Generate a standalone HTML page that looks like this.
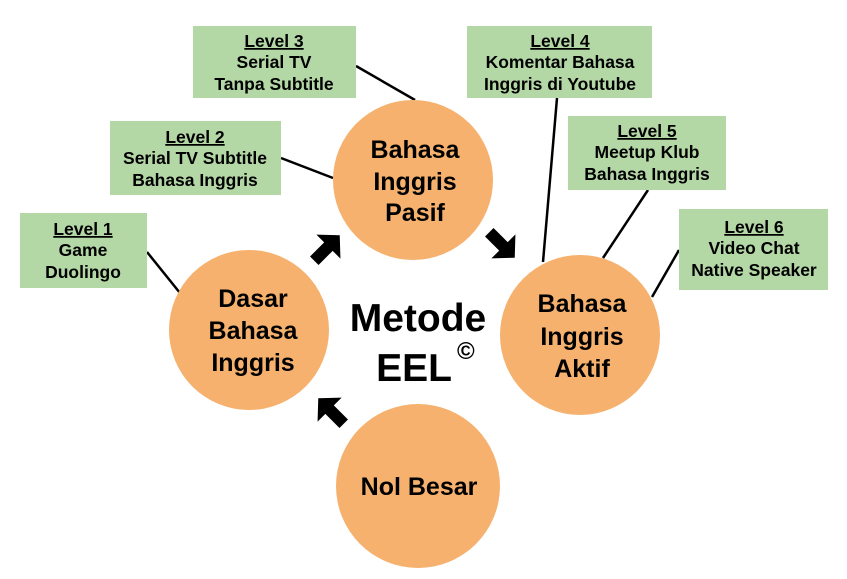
<!DOCTYPE html>
<html><head><meta charset="utf-8"><style>
body{margin:0;background:#fff;}
svg{display:block;}
text{font-family:"Liberation Sans",Arial,sans-serif;font-weight:bold;fill:#000;}
</style></head><body>
<svg width="847" height="579" viewBox="0 0 847 579">
<g stroke="#000" stroke-width="2.5">
<line x1="356" y1="66" x2="415" y2="100"/>
<line x1="281" y1="158" x2="333" y2="178"/>
<line x1="147" y1="252" x2="180" y2="293"/>
<line x1="557" y1="98" x2="543" y2="262"/>
<line x1="648" y1="190" x2="603" y2="258"/>
<line x1="679" y1="250" x2="652" y2="297"/>
</g>
<g fill="#B4D7A6">
<rect x="193" y="26" width="163" height="72"/>
<rect x="110" y="121" width="171" height="74"/>
<rect x="20" y="213" width="127" height="75"/>
<rect x="467" y="26" width="185" height="72"/>
<rect x="568" y="116" width="158" height="74"/>
<rect x="679" y="209" width="149" height="81"/>
</g>
<g font-size="17.5" text-anchor="middle">
<text x="274" y="47" text-decoration="underline">Level 3</text>
<text x="274" y="68">Serial TV</text>
<text x="274" y="90">Tanpa Subtitle</text>
<text x="195" y="143" text-decoration="underline">Level 2</text>
<text x="195" y="164">Serial TV Subtitle</text>
<text x="195" y="186">Bahasa Inggris</text>
<text x="83" y="235" text-decoration="underline">Level 1</text>
<text x="83" y="256">Game</text>
<text x="83" y="278">Duolingo</text>
<text x="560" y="47" text-decoration="underline">Level 4</text>
<text x="560" y="68">Komentar Bahasa</text>
<text x="560" y="90">Inggris di Youtube</text>
<text x="647" y="137" text-decoration="underline">Level 5</text>
<text x="647" y="158">Meetup Klub</text>
<text x="647" y="180">Bahasa Inggris</text>
<text x="754" y="233" text-decoration="underline">Level 6</text>
<text x="754" y="254">Video Chat</text>
<text x="754" y="276">Native Speaker</text>
</g>
<g fill="#F5B16D">
<circle cx="413" cy="180" r="80"/>
<circle cx="249" cy="330" r="80"/>
<circle cx="580" cy="335" r="80"/>
<circle cx="418" cy="486" r="82"/>
</g>
<g font-size="25" text-anchor="middle">
<text x="415" y="158">Bahasa</text>
<text x="415" y="190">Inggris</text>
<text x="415" y="221">Pasif</text>
<text x="253" y="307">Dasar</text>
<text x="253" y="339">Bahasa</text>
<text x="253" y="371">Inggris</text>
<text x="582" y="312">Bahasa</text>
<text x="582" y="345">Inggris</text>
<text x="582" y="377">Aktif</text>
<text x="419" y="495">Nol Besar</text>
</g>
<g font-size="39" text-anchor="middle">
<text x="418" y="331">Metode</text>
<text x="414" y="381">EEL</text>
</g>
<text x="457" y="359" font-size="24" font-weight="normal">©</text>
<g fill="#000">
<path d="M-18,-6 H2 V-17 L18,0 L2,17 V6 H-18 Z" transform="translate(327,248) rotate(-45)"/>
<path d="M-18,-6 H2 V-17 L18,0 L2,17 V6 H-18 Z" transform="translate(502,245) rotate(45)"/>
<path d="M-18,-6 H2 V-17 L18,0 L2,17 V6 H-18 Z" transform="translate(331,411) rotate(-135)"/>
</g>
</svg>
</body></html>
